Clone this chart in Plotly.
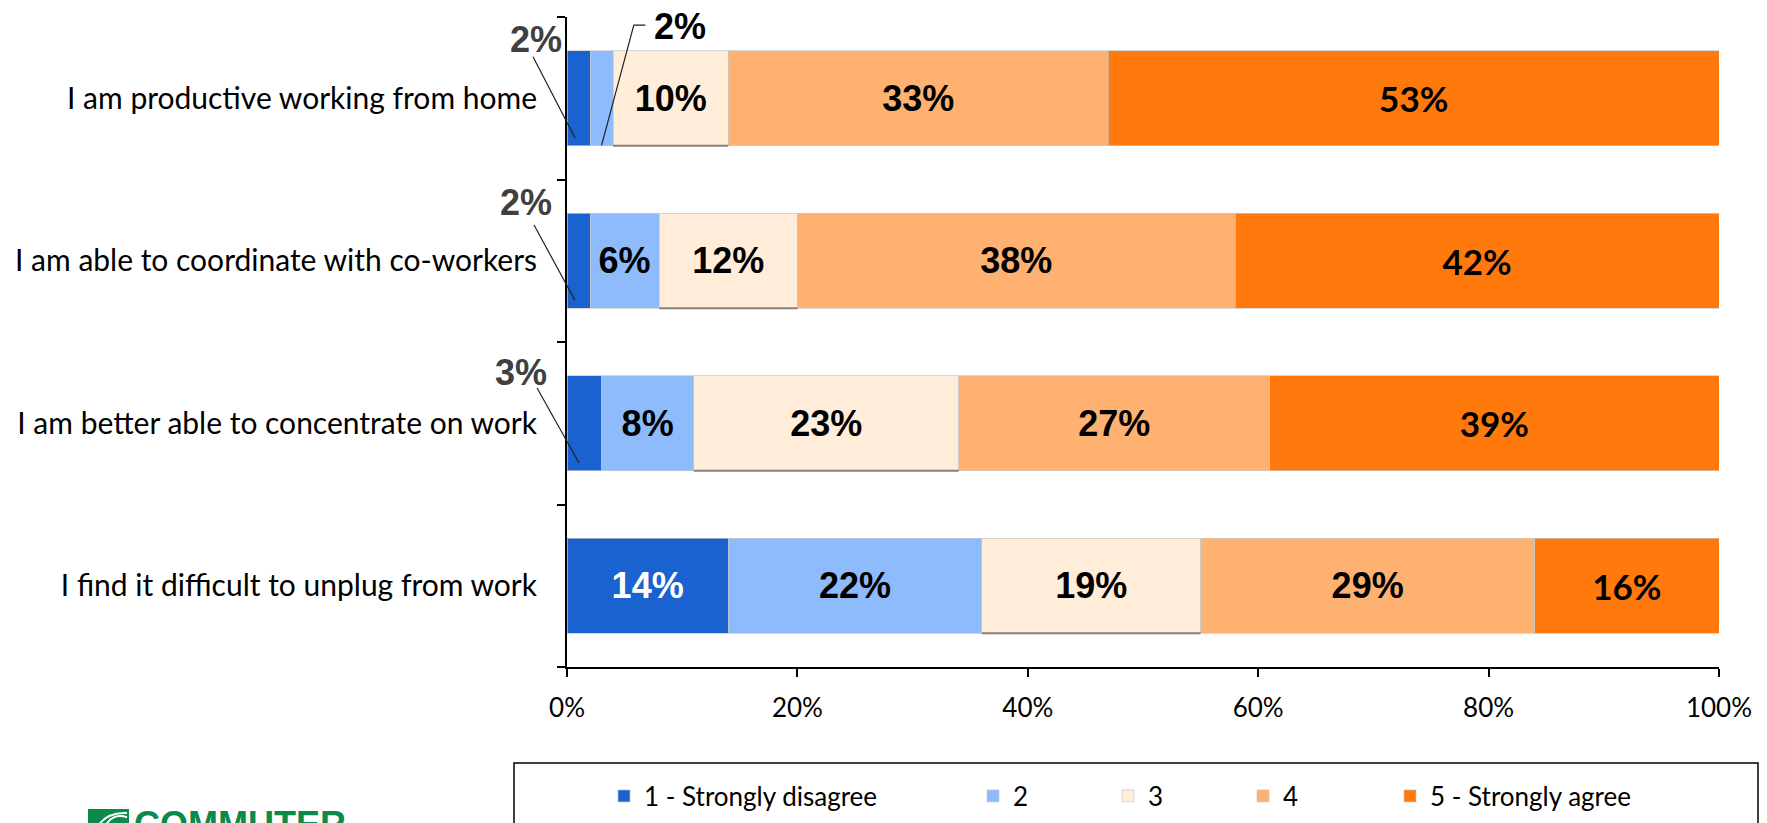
import plotly.graph_objects as go

# ---------------- data ----------------
categories = [
    "I am productive working from home",
    "I am able to coordinate with co-workers",
    "I am better able to concentrate on work",
    "I find it difficult to unplug from work",
]
series_names = ["1 - Strongly disagree", "2", "3", "4", "5 - Strongly agree"]
s1 = [2, 2, 3, 14]
s2 = [2, 6, 8, 22]
s3 = [10, 12, 23, 19]
s4 = [33, 38, 27, 29]
s5 = [53, 42, 39, 16]
series_values = [s1, s2, s3, s4, s5]
x_ticks = [0, 20, 40, 60, 80, 100]
x_tick_labels = ["0%", "20%", "40%", "60%", "80%", "100%"]

# ---------------- style ----------------
colors = ["#1A62CF", "#8EBBFC", "#FFEDD9", "#FEB170", "#FF790D"]
label_colors = ["white", "black", "black", "black", "black"]
label_fonts = ["Liberation Sans", "Liberation Sans", "Liberation Sans", "Liberation Sans", "Lato"]
label_sizes = [36, 36, 36, 36, 35]
BAR_W = 0.585
W, H = 1767, 823
ML, MR, MT, MB = 567, 48, 17, 156
PW, PH = W - ML - MR, H - MT - MB
XMAX = 100.0

n = len(categories)
ypos = [n - 1 - i for i in range(n)]

def px_x(p):
    return (p - ML) / PW

def px_y(p):
    return (H - MB - p) / PH

# data -> paper (axis range x: 0..100, y: -0.5..n-0.5)
def dx(v):
    return v / XMAX

def dy(v):
    return (v + 0.5) / n

fig = go.Figure()
legend_ids = ["legend", "legend2", "legend3", "legend4", "legend5"]
legend_px = [604, 973, 1108, 1243, 1390]

for k, (name, vals) in enumerate(zip(series_names, series_values)):
    txt = [f"{v}%" if v >= 5 else "" for v in vals]
    fig.add_trace(go.Bar(
        name=name, x=vals, y=ypos, orientation="h", width=BAR_W,
        marker=dict(color=colors[k], line=dict(color="rgba(200,200,200,0.7)", width=1)),
        text=txt, textposition="inside", insidetextanchor="middle", textangle=0,
        textfont=dict(family=label_fonts[k], size=label_sizes[k], color=label_colors[k],
                      weight="bold"),
        legend=legend_ids[k], hoverinfo="skip",
    ))

# shadow line under beige segments
starts3 = [a + b for a, b in zip(s1, s2)]
for y, st, v in zip(ypos, starts3, s3):
    fig.add_shape(type="line", xref="x", yref="y", x0=st, x1=st + v,
                  y0=y - BAR_W / 2, y1=y - BAR_W / 2,
                  line=dict(color="#8A7E72", width=2))

# outside labels with leader lines for small segments
# (series index, row index, text offset, line start offset, elbow offset)
small = [
    (0, 0, (-2.69, 0.36), (-2.95, 0.255), None),
    (0, 1, (-3.56, 0.36), (-2.86, 0.22), None),
    (0, 2, (-3.99, 0.315), (-2.6, 0.217), None),
    (1, 0, (9.8, 0.44), (6.8, 0.45), (5.8, 0.45)),
]
out_colors = ["#404040", "black"]
for si, ri, toff, lstart, elbow in small:
    start = sum(series_values[j][ri] for j in range(si))
    val = series_values[si][ri]
    y = ypos[ri]
    frac = 0.35 if si == 0 else 0.5
    pt = start + frac * val
    fig.add_annotation(x=dx(toff[0]), y=dy(y + toff[1]), xref="paper", yref="paper",
                       xanchor="center", yanchor="middle",
                       text=f"{val}%", showarrow=False,
                       font=dict(family="Liberation Sans", size=36, color=out_colors[si],
                                 weight="bold"))
    if elbow is None:
        path = f"M {dx(lstart[0])},{dy(y + lstart[1])} L {dx(pt)},{dy(y - 0.245)}"
    else:
        path = (f"M {dx(lstart[0])},{dy(y + lstart[1])} L {dx(elbow[0])},{dy(y + elbow[1])} "
                f"L {dx(pt)},{dy(y - 0.29)}")
    fig.add_shape(type="path", xref="paper", yref="paper", path=path,
                  line=dict(color="#202020", width=1.2))

# legend box
fig.add_shape(type="rect", xref="paper", yref="paper",
              x0=px_x(514), x1=px_x(1758), y0=px_y(840), y1=px_y(763),
              line=dict(color="black", width=1.5), fillcolor="white", layer="below")

# logo
fig.add_shape(type="rect", xref="paper", yref="paper",
              x0=px_x(88), x1=px_x(129), y0=px_y(840), y1=px_y(809),
              line=dict(width=0), fillcolor="#0B8A4C")
for off in (0, 7):
    fig.add_shape(type="path", xref="paper", yref="paper",
                  path=(f"M {px_x(96 + off)},{px_y(830)} Q {px_x(104 + off)},{px_y(812)} "
                        f"{px_x(127)},{px_y(813 + off * 0.6)}"),
                  line=dict(color="white", width=2))
fig.add_annotation(x=px_x(132), y=px_y(802), xref="paper", yref="paper",
                   xanchor="left", yanchor="top", text="COMMUTER", showarrow=False,
                   font=dict(family="Liberation Sans", size=36, color="#0B8A4C", weight="bold"))

layout_legends = {}
for lid, lp in zip(legend_ids, legend_px):
    layout_legends[lid] = dict(
        orientation="h", x=px_x(lp), y=px_y(796), xanchor="left", yanchor="middle",
        xref="paper", yref="paper", bgcolor="rgba(0,0,0,0)",
        font=dict(family="Lato", size=26, color="black"),
        itemwidth=30, traceorder="normal",
    )

fig.update_layout(
    width=W, height=H,
    margin=dict(l=ML, r=MR, t=MT, b=MB, autoexpand=False),
    barmode="stack",
    paper_bgcolor="white", plot_bgcolor="white",
    showlegend=True,
    **layout_legends,
)
fig.update_xaxes(
    range=[0, XMAX], tickvals=x_ticks, ticktext=x_tick_labels,
    showgrid=False, zeroline=False, showline=True, linecolor="black", linewidth=2,
    ticks="outside", ticklen=8, tickwidth=1.5, tickcolor="black",
    tickfont=dict(family="Lato", size=26, color="black"), ticklabelstandoff=9,
    fixedrange=True, automargin=False,
)
fig.update_yaxes(
    range=[-0.5, n - 0.5], tickvals=ypos, ticktext=categories,
    showgrid=False, zeroline=False, showline=True, linecolor="black", linewidth=2,
    ticks="", tickfont=dict(family="Lato", size=30, color="black"), ticklabelstandoff=22,
    minor=dict(tickvals=[i - 0.5 for i in range(n + 1)], ticks="outside", ticklen=8,
               tickwidth=1.5, tickcolor="black", showgrid=False),
    fixedrange=True, automargin=False,
)

fig.write_html("out.html")
